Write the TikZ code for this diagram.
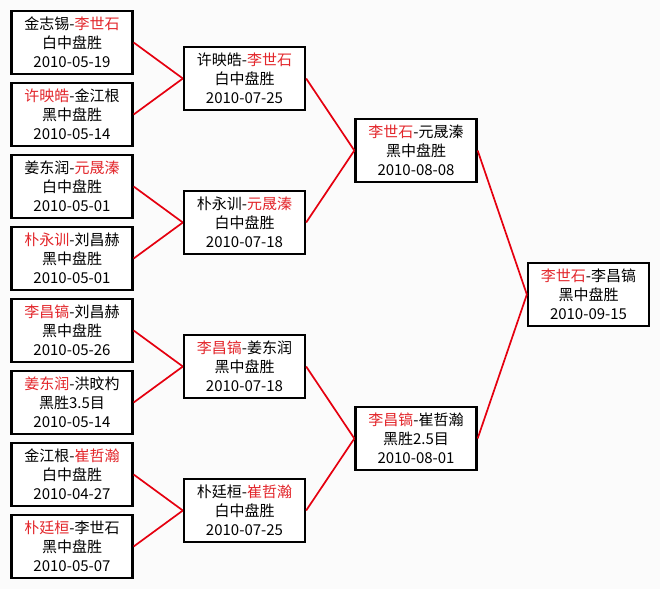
\documentclass[tikz,border=0pt]{standalone}
\usepackage{fontspec}
\usepackage{xcolor}
\setmainfont{Noto Sans CJK SC}
\definecolor{winred}{HTML}{E3262B}
\definecolor{linkred}{HTML}{E5000F}
\definecolor{paper}{HTML}{FBFBFB}
\newcommand\win[1]{\textcolor{winred}{#1}}
\tikzset{
  match/.style={draw=black,fill=white,line width=2.3pt,minimum width=121pt,
    minimum height=63pt,inner sep=0pt,align=center,
    font=\fontsize{15}{19}\selectfont},
  link/.style={draw=linkred,line width=1.7pt}
}

\begin{document}
\begin{tikzpicture}[x=1pt,y=-1pt]
  \fill[paper] (0,0) rectangle (660,589);
  % first round
  \node[match] (r1a) at (72,42.5)  {金志锡-\win{李世石}\\白中盘胜\\2010-05-19};
  \node[match] (r1b) at (72,114.5) {\win{许映皓}-金江根\\黑中盘胜\\2010-05-14};
  \node[match] (r1c) at (72,186.5) {姜东润-\win{元晟溱}\\白中盘胜\\2010-05-01};
  \node[match] (r1d) at (72,258.5) {\win{朴永训}-刘昌赫\\黑中盘胜\\2010-05-01};
  \node[match] (r1e) at (72,330.5) {\win{李昌镐}-刘昌赫\\黑中盘胜\\2010-05-26};
  \node[match] (r1f) at (72,402.5) {\win{姜东润}-洪旼杓\\黑胜3.5目\\2010-05-14};
  \node[match] (r1g) at (72,474.5) {金江根-\win{崔哲瀚}\\白中盘胜\\2010-04-27};
  \node[match] (r1h) at (72,546.5) {\win{朴廷桓}-李世石\\黑中盘胜\\2010-05-07};
  % second round
  \node[match] (r2a) at (244.5,78.5)  {许映皓-\win{李世石}\\白中盘胜\\2010-07-25};
  \node[match] (r2b) at (244.5,222.5) {朴永训-\win{元晟溱}\\白中盘胜\\2010-07-18};
  \node[match] (r2c) at (244.5,366.5) {\win{李昌镐}-姜东润\\黑中盘胜\\2010-07-18};
  \node[match] (r2d) at (244.5,510.5) {朴廷桓-\win{崔哲瀚}\\白中盘胜\\2010-07-25};
  % semi-finals and final
  \node[match] (r3a) at (416,150.5) {\win{李世石}-元晟溱\\黑中盘胜\\2010-08-08};
  \node[match] (r3b) at (416,438.5) {\win{李昌镐}-崔哲瀚\\黑胜2.5目\\2010-08-01};
  \node[match] (fin) at (588.5,294.5) {\win{李世石}-李昌镐\\黑中盘胜\\2010-09-15};
  \foreach \c/\p in {r1a/r2a,r1b/r2a,r1c/r2b,r1d/r2b,r1e/r2c,r1f/r2c,r1g/r2d,r1h/r2d,
      r2a/r3a,r2b/r3a,r2c/r3b,r2d/r3b,r3a/fin,r3b/fin}
    \draw[link] (\c.east) -- (\p.west);
\end{tikzpicture}
\end{document}
